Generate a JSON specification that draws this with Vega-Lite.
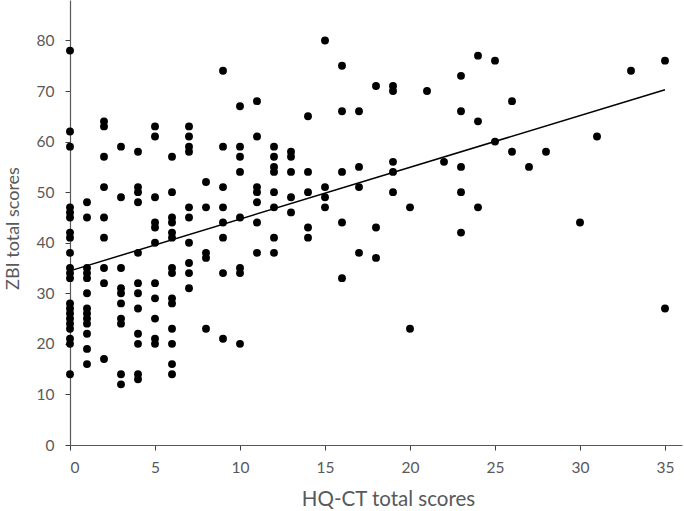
{
  "$schema": "https://vega.github.io/schema/vega-lite/v6.json",
  "autosize": "none",
  "padding": {"left": 70, "top": 0, "right": 2, "bottom": 66},
  "width": 612,
  "height": 445,
  "background": "white",
  "config": {
    "view": {"stroke": null},
    "font": "Lato",
    "axis": {
      "grid": false,
      "domainColor": "#595959",
      "tickColor": "#404040",
      "labelColor": "#595959",
      "titleColor": "#595959",
      "labelFont": "Lato",
      "titleFont": "Lato",
      "labelFontSize": 15.5,
      "titleFontSize": 19,
      "titleFontWeight": "normal",
      "tickSize": 5,
      "domainWidth": 1.2
    }
  },
  "data": {
    "values": [
      {"hq": 0, "zbi": 78}, {"hq": 0, "zbi": 62}, {"hq": 0, "zbi": 59}, {"hq": 0, "zbi": 47}, {"hq": 0, "zbi": 46}, {"hq": 0, "zbi": 45}, {"hq": 0, "zbi": 42}, {"hq": 0, "zbi": 41}, {"hq": 0, "zbi": 38}, {"hq": 0, "zbi": 35}, {"hq": 0, "zbi": 34}, {"hq": 0, "zbi": 33}, {"hq": 0, "zbi": 28}, {"hq": 0, "zbi": 27}, {"hq": 0, "zbi": 26}, {"hq": 0, "zbi": 25}, {"hq": 0, "zbi": 24}, {"hq": 0, "zbi": 23}, {"hq": 0, "zbi": 21}, {"hq": 0, "zbi": 20}, {"hq": 0, "zbi": 14},
      {"hq": 1, "zbi": 48}, {"hq": 1, "zbi": 45}, {"hq": 1, "zbi": 35}, {"hq": 1, "zbi": 34}, {"hq": 1, "zbi": 33}, {"hq": 1, "zbi": 30}, {"hq": 1, "zbi": 27}, {"hq": 1, "zbi": 26}, {"hq": 1, "zbi": 25}, {"hq": 1, "zbi": 24}, {"hq": 1, "zbi": 22}, {"hq": 1, "zbi": 19}, {"hq": 1, "zbi": 16},
      {"hq": 2, "zbi": 64}, {"hq": 2, "zbi": 63}, {"hq": 2, "zbi": 57}, {"hq": 2, "zbi": 51}, {"hq": 2, "zbi": 45}, {"hq": 2, "zbi": 41}, {"hq": 2, "zbi": 35}, {"hq": 2, "zbi": 32}, {"hq": 2, "zbi": 17},
      {"hq": 3, "zbi": 59}, {"hq": 3, "zbi": 49}, {"hq": 3, "zbi": 35}, {"hq": 3, "zbi": 31}, {"hq": 3, "zbi": 30}, {"hq": 3, "zbi": 28}, {"hq": 3, "zbi": 25}, {"hq": 3, "zbi": 24}, {"hq": 3, "zbi": 14}, {"hq": 3, "zbi": 12},
      {"hq": 4, "zbi": 58}, {"hq": 4, "zbi": 51}, {"hq": 4, "zbi": 50}, {"hq": 4, "zbi": 48}, {"hq": 4, "zbi": 38}, {"hq": 4, "zbi": 32}, {"hq": 4, "zbi": 30}, {"hq": 4, "zbi": 27}, {"hq": 4, "zbi": 22}, {"hq": 4, "zbi": 20}, {"hq": 4, "zbi": 14}, {"hq": 4, "zbi": 13},
      {"hq": 5, "zbi": 63}, {"hq": 5, "zbi": 61}, {"hq": 5, "zbi": 49}, {"hq": 5, "zbi": 44}, {"hq": 5, "zbi": 43}, {"hq": 5, "zbi": 40}, {"hq": 5, "zbi": 32}, {"hq": 5, "zbi": 29}, {"hq": 5, "zbi": 25}, {"hq": 5, "zbi": 21}, {"hq": 5, "zbi": 20},
      {"hq": 6, "zbi": 57}, {"hq": 6, "zbi": 50}, {"hq": 6, "zbi": 45}, {"hq": 6, "zbi": 44}, {"hq": 6, "zbi": 42}, {"hq": 6, "zbi": 41}, {"hq": 6, "zbi": 35}, {"hq": 6, "zbi": 34}, {"hq": 6, "zbi": 29}, {"hq": 6, "zbi": 28}, {"hq": 6, "zbi": 23}, {"hq": 6, "zbi": 20}, {"hq": 6, "zbi": 16}, {"hq": 6, "zbi": 14},
      {"hq": 7, "zbi": 63}, {"hq": 7, "zbi": 61}, {"hq": 7, "zbi": 59}, {"hq": 7, "zbi": 58}, {"hq": 7, "zbi": 47}, {"hq": 7, "zbi": 45}, {"hq": 7, "zbi": 40}, {"hq": 7, "zbi": 36}, {"hq": 7, "zbi": 34}, {"hq": 7, "zbi": 31},
      {"hq": 8, "zbi": 52}, {"hq": 8, "zbi": 47}, {"hq": 8, "zbi": 38}, {"hq": 8, "zbi": 37}, {"hq": 8, "zbi": 23},
      {"hq": 9, "zbi": 74}, {"hq": 9, "zbi": 59}, {"hq": 9, "zbi": 51}, {"hq": 9, "zbi": 47}, {"hq": 9, "zbi": 44}, {"hq": 9, "zbi": 41}, {"hq": 9, "zbi": 34}, {"hq": 9, "zbi": 21},
      {"hq": 10, "zbi": 67}, {"hq": 10, "zbi": 59}, {"hq": 10, "zbi": 57}, {"hq": 10, "zbi": 54}, {"hq": 10, "zbi": 45}, {"hq": 10, "zbi": 35}, {"hq": 10, "zbi": 34}, {"hq": 10, "zbi": 20},
      {"hq": 11, "zbi": 68}, {"hq": 11, "zbi": 61}, {"hq": 11, "zbi": 51}, {"hq": 11, "zbi": 50}, {"hq": 11, "zbi": 48}, {"hq": 11, "zbi": 44}, {"hq": 11, "zbi": 38},
      {"hq": 12, "zbi": 59}, {"hq": 12, "zbi": 57}, {"hq": 12, "zbi": 55}, {"hq": 12, "zbi": 54}, {"hq": 12, "zbi": 50}, {"hq": 12, "zbi": 47}, {"hq": 12, "zbi": 41}, {"hq": 12, "zbi": 38},
      {"hq": 13, "zbi": 58}, {"hq": 13, "zbi": 57}, {"hq": 13, "zbi": 54}, {"hq": 13, "zbi": 49}, {"hq": 13, "zbi": 46},
      {"hq": 14, "zbi": 65}, {"hq": 14, "zbi": 54}, {"hq": 14, "zbi": 50}, {"hq": 14, "zbi": 43}, {"hq": 14, "zbi": 41},
      {"hq": 15, "zbi": 80}, {"hq": 15, "zbi": 51}, {"hq": 15, "zbi": 49}, {"hq": 15, "zbi": 47},
      {"hq": 16, "zbi": 75}, {"hq": 16, "zbi": 66}, {"hq": 16, "zbi": 54}, {"hq": 16, "zbi": 44}, {"hq": 16, "zbi": 33},
      {"hq": 17, "zbi": 66}, {"hq": 17, "zbi": 55}, {"hq": 17, "zbi": 51}, {"hq": 17, "zbi": 38},
      {"hq": 18, "zbi": 71}, {"hq": 18, "zbi": 43}, {"hq": 18, "zbi": 37},
      {"hq": 19, "zbi": 71}, {"hq": 19, "zbi": 70}, {"hq": 19, "zbi": 56}, {"hq": 19, "zbi": 54}, {"hq": 19, "zbi": 50},
      {"hq": 20, "zbi": 47}, {"hq": 20, "zbi": 23},
      {"hq": 21, "zbi": 70},
      {"hq": 22, "zbi": 56},
      {"hq": 23, "zbi": 73}, {"hq": 23, "zbi": 66}, {"hq": 23, "zbi": 55}, {"hq": 23, "zbi": 50}, {"hq": 23, "zbi": 42},
      {"hq": 24, "zbi": 77}, {"hq": 24, "zbi": 64}, {"hq": 24, "zbi": 47},
      {"hq": 25, "zbi": 76}, {"hq": 25, "zbi": 60},
      {"hq": 26, "zbi": 68}, {"hq": 26, "zbi": 58},
      {"hq": 27, "zbi": 55},
      {"hq": 28, "zbi": 58},
      {"hq": 30, "zbi": 44},
      {"hq": 31, "zbi": 61},
      {"hq": 33, "zbi": 74},
      {"hq": 35, "zbi": 76}, {"hq": 35, "zbi": 27}
    ]
  },
  "layer": [
    {
      "mark": {"type": "circle", "size": 62, "color": "#000000", "opacity": 1},
      "encoding": {
        "x": {
          "field": "hq", "type": "quantitative",
          "scale": {"domain": [0, 36], "nice": false, "zero": true},
          "axis": {"values": [0, 5, 10, 15, 20, 25, 30, 35], "title": "HQ-CT total scores", "labelPadding": 10, "titlePadding": 14, "titleFontSize": 20.5, "titleX": 318}
        },
        "y": {
          "field": "zbi", "type": "quantitative",
          "scale": {"domain": [0, 88], "nice": false},
          "axis": {"values": [0, 10, 20, 30, 40, 50, 60, 70, 80], "title": "ZBI total scores", "labelPadding": 11, "titlePadding": 14, "titleFontSize": 18, "titleY": 228}
        }
      }
    },
    {
      "transform": [{"regression": "zbi", "on": "hq", "extent": [0, 35]}],
      "mark": {"type": "line", "color": "#000000", "strokeWidth": 1.5},
      "encoding": {
        "x": {"field": "hq", "type": "quantitative"},
        "y": {"field": "zbi", "type": "quantitative"}
      }
    }
  ]
}
